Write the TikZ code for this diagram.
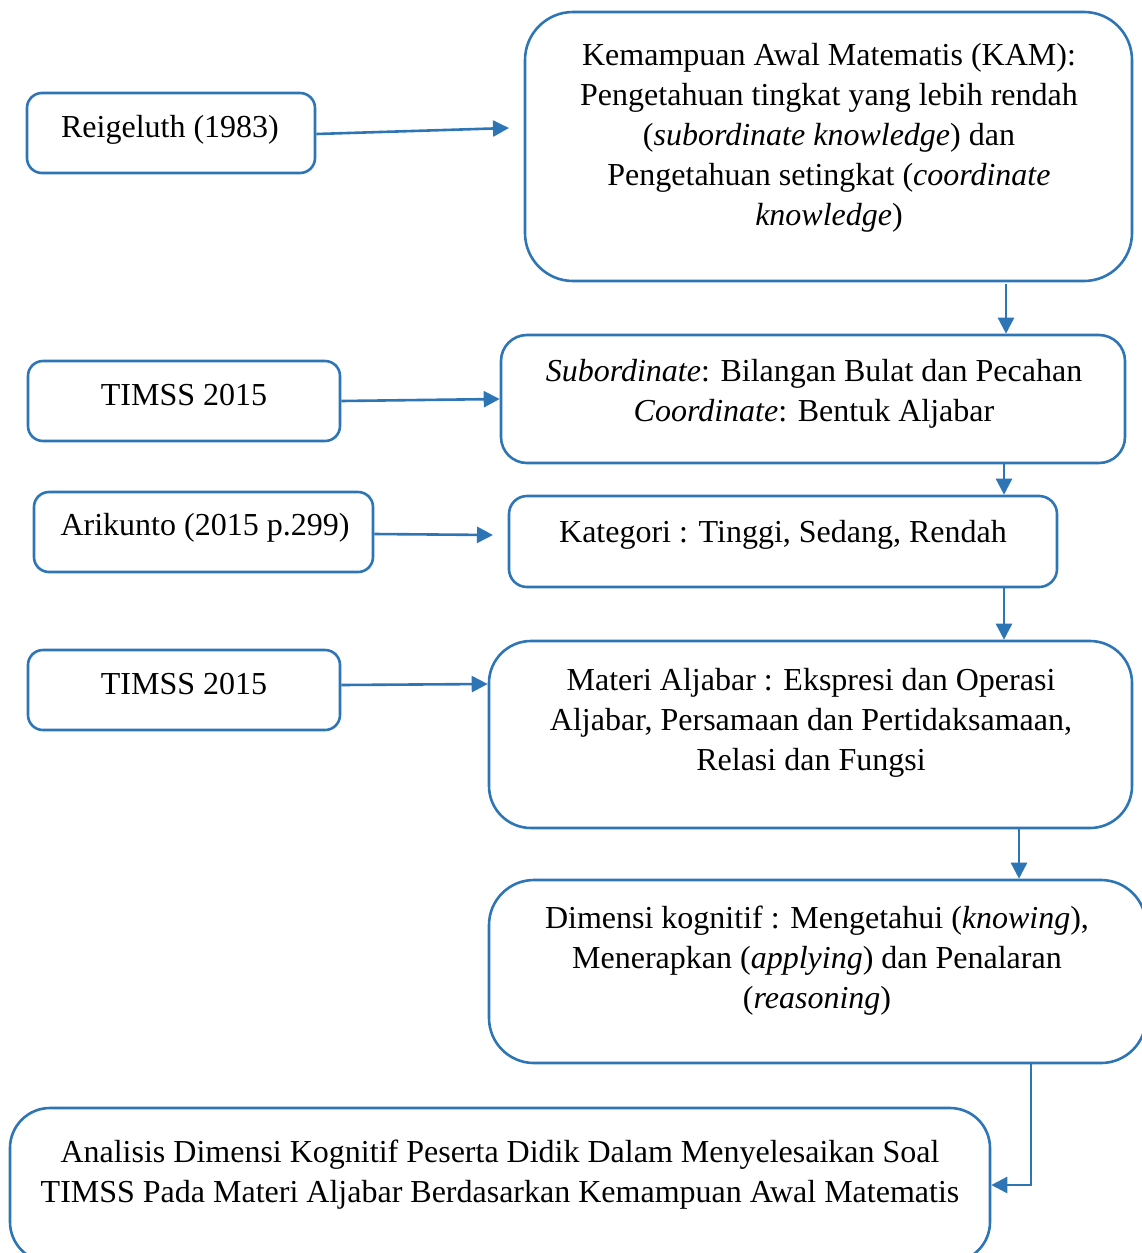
\documentclass[tikz,border=0pt]{standalone}
\usepackage{fontspec}
\setmainfont{Liberation Serif}
\usetikzlibrary{arrows.meta}
\definecolor{boxblue}{RGB}{46,117,182}
\begin{document}
\begin{tikzpicture}[x=1pt,y=-1pt,
  box/.style={draw=boxblue, line width=2.6pt, inner sep=0pt, fill=none},
  txt/.style={font=\fontsize{32}{40}\selectfont, align=center, inner sep=0pt},
  arr/.style={draw=boxblue, line width=2.6pt, -{Triangle[length=16pt,width=16pt]}}]
\useasboundingbox (0,0) rectangle (1142,1253);
\clip (0,0) rectangle (1142,1253);
% boxes
\node[box, rounded corners=48pt, minimum width=607pt, minimum height=269pt] (kam) at (828.5,146.5) {};
\node[box, rounded corners=26pt, minimum width=624pt, minimum height=128pt] (sub) at (813,399) {};
\node[box, rounded corners=18pt, minimum width=548pt, minimum height=91pt] (kat) at (783,541.5) {};
\node[box, rounded corners=42pt, minimum width=643pt, minimum height=187pt] (mat) at (810.5,734.5) {};
\node[box, rounded corners=45pt, minimum width=657pt, minimum height=183pt] (dim) at (817.5,971.5) {};
\node[box, rounded corners=40pt, minimum width=980pt, minimum height=154pt] (ana) at (500,1185) {};
\node[box, rounded corners=15pt, minimum width=288pt, minimum height=80pt] (reig) at (171,133) {};
\node[box, rounded corners=15pt, minimum width=312pt, minimum height=80pt] (tim1) at (184,401) {};
\node[box, rounded corners=15pt, minimum width=339pt, minimum height=80pt] (arik) at (203.5,532) {};
\node[box, rounded corners=15pt, minimum width=312pt, minimum height=80pt] (tim2) at (184,690) {};
% texts
\node[txt, anchor=base] (reigt) at (170,137) {Reigeluth (1983)};
\node[txt, anchor=base] (tim1t) at (184,405) {TIMSS 2015};
\node[txt, anchor=base] (arikt) at (205,535) {Arikunto (2015 p.299)};
\node[txt, anchor=base] (tim2t) at (184,694) {TIMSS 2015};
\node[txt, anchor=north] (kamt) at (829,43) {Kemampuan Awal Matematis (KAM):\\Pengetahuan tingkat yang lebih rendah\\(\textit{subordinate knowledge}) dan\\Pengetahuan setingkat (\textit{coordinate}\\\textit{knowledge})};
\node[txt, anchor=north] (subt) at (814,359) {\textit{Subordinate}: Bilangan Bulat dan Pecahan\\\textit{Coordinate}: Bentuk Aljabar};
\node[txt, anchor=base] (katt) at (783,542) {Kategori : Tinggi, Sedang, Rendah};
\node[txt, anchor=north] (matt) at (811,668) {Materi Aljabar : Ekspresi dan Operasi\\Aljabar, Persamaan dan Pertidaksamaan,\\Relasi dan Fungsi};
\node[txt, anchor=north] (dimt) at (817,906) {Dimensi kognitif : Mengetahui (\textit{knowing}),\\Menerapkan (\textit{applying}) dan Penalaran\\(\textit{reasoning})};
\node[txt, anchor=north] (anat) at (500,1140) {Analisis Dimensi Kognitif Peserta Didik Dalam Menyelesaikan Soal\\TIMSS Pada Materi Aljabar Berdasarkan Kemampuan Awal Matematis};
% helper coordinates
\coordinate (kamin) at (509,128);
\coordinate (katin) at (493,535);
\coordinate (c1) at (1006,284);
\coordinate (c2) at (1004,0);
\coordinate (c3) at (1019,0);
\coordinate (c4) at (1031,0);
% connectors
\draw[arr] ([yshift=-1pt]reig.east) -- (kamin);
\draw[arr] (tim1.east) -- (sub.west);
\draw[arr] ([yshift=-2pt]arik.east) -- (katin);
\draw[arr] ([yshift=5pt]tim2.east) -- ([yshift=6pt]tim2.east -| mat.west);
\draw[arr] (c1) -- (c1 |- sub.north);
\draw[arr] (sub.south -| c2) -- (kat.north -| c2);
\draw[arr] (kat.south -| c2) -- (mat.north -| c2);
\draw[arr] (mat.south -| c3) -- (dim.north -| c3);
\draw[arr] (dim.south -| c4) |- (ana.east);
\end{tikzpicture}
\end{document}
